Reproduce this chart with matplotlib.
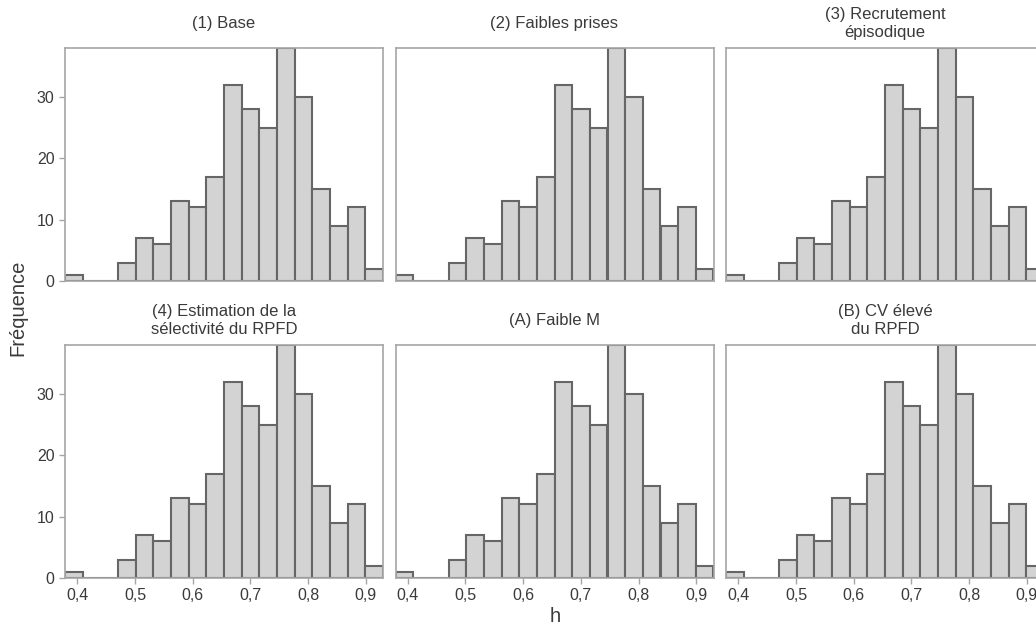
import matplotlib
matplotlib.use("Agg")
import matplotlib.pyplot as plt
from matplotlib.ticker import FuncFormatter
import numpy as np

plt.rcParams['font.family'] = ['Liberation Sans', 'DejaVu Sans']

# histogram of h (same distribution in every scenario)
bin_lo = 0.3787
bin_hi = 0.9300
n_bins = 18
counts = [1, 0, 0, 3, 7, 6, 13, 12, 17, 32, 28, 25, 38, 30, 15, 9, 12, 2]

titles = [
    "(1) Base",
    "(2) Faibles prises",
    "(3) Recrutement\népisodique",
    "(4) Estimation de la\nsélectivité du RPFD",
    "(A) Faible M",
    "(B) CV élevé\ndu RPFD",
]
xticks = [0.4, 0.5, 0.6, 0.7, 0.8, 0.9]
yticks = [0, 10, 20, 30]

W, H = 1036, 626
fig = plt.figure(figsize=(W / 100, H / 100), dpi=100)

col_left = [65, 395.5, 726]
row_top = [48, 345]
ax_w, ax_h = 318, 233

edges = np.linspace(bin_lo, bin_hi, n_bins + 1)
widths = np.diff(edges)
frame_col = "#a6a6a6"
text_col = "#3a3a3a"

for i, title in enumerate(titles):
    r, c = divmod(i, 3)
    ax = fig.add_axes([col_left[c] / W, 1 - (row_top[r] + ax_h) / H, ax_w / W, ax_h / H])
    ax.bar(edges[:-1], counts, width=widths, align="edge",
           color="#d3d3d3", edgecolor="#666666", linewidth=1.5)
    ax.set_xlim(bin_lo, bin_hi)
    ax.set_ylim(0, max(counts))
    for s in ax.spines.values():
        s.set_color(frame_col)
        s.set_linewidth(1.2)
    # titles are centred vertically ~24 px above the panel
    fig.text((col_left[c] + ax_w / 2) / W, 1 - (row_top[r] - 24.5) / H, title,
             ha="center", va="center", fontsize=12, color=text_col, linespacing=1.3)
    ax.set_xticks(xticks)
    ax.set_yticks(yticks)
    ax.xaxis.set_major_formatter(FuncFormatter(lambda v, p: f"{v:.1f}".replace(".", ",")))
    ax.tick_params(colors=frame_col, labelcolor=text_col, labelsize=11.5, length=4, width=1)
    if c != 0:
        ax.tick_params(axis="y", left=False, labelleft=False)
    if r != 1:
        ax.tick_params(axis="x", bottom=False, labelbottom=False)

fig.text(18 / W, 1 - 308 / H, "Fréquence", rotation=90, ha="center", va="center",
         fontsize=14.5, color=text_col)
fig.text(555 / W, 1 - 616 / H, "h", ha="center", va="center", fontsize=14.5, color=text_col)

fig.savefig("out.png", dpi=100)
